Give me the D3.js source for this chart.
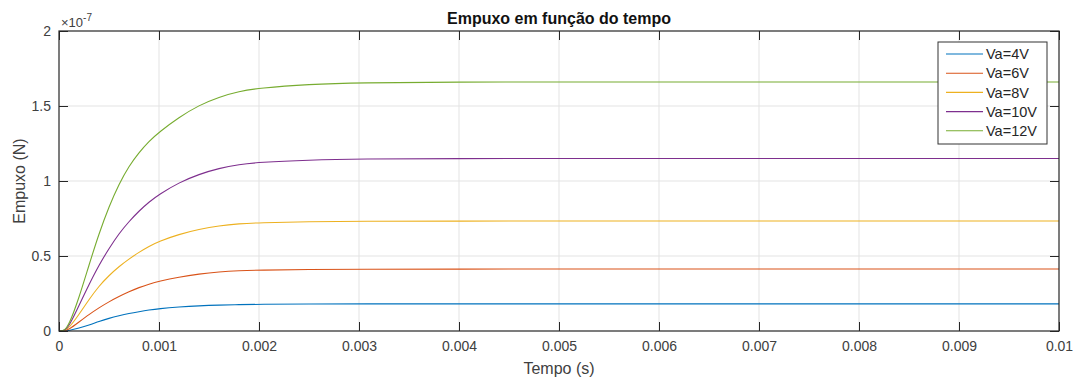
<!DOCTYPE html>
<html lang="en">
<head>
<meta charset="UTF-8">
<title>Empuxo em função do tempo</title>
<script src="https://cdn.jsdelivr.net/npm/d3@7/dist/d3.min.js"></script>
<style>
  body { margin: 0; background: #fff; }
  svg { display: block; font-family: "Liberation Sans", Arial, sans-serif; }
</style>
</head>
<body>
<svg width="1078" height="381"></svg>
<script>
// tempo (s)
var tempo = [0, 0.00005, 0.0001, 0.0002, 0.0003, 0.0004, 0.0005, 0.0006, 0.0007, 0.0008, 0.0009, 0.001,
  0.0012, 0.0014, 0.0016, 0.0018, 0.002, 0.0025, 0.003, 0.004, 0.005, 0.006, 0.007, 0.008, 0.009, 0.01];

// empuxo, em unidades de 1e-7 N
var va4  = [0, 0, 0.003, 0.02, 0.04, 0.064, 0.085, 0.102, 0.117, 0.129, 0.14, 0.149,
  0.16, 0.168, 0.173, 0.176, 0.178, 0.18, 0.181, 0.181, 0.181, 0.181, 0.181, 0.181, 0.181, 0.181];
var va6  = [0, 0, 0.01, 0.06, 0.11, 0.155, 0.195, 0.23, 0.262, 0.29, 0.313, 0.332,
  0.36, 0.38, 0.394, 0.402, 0.406, 0.41, 0.412, 0.413, 0.413, 0.413, 0.413, 0.413, 0.413, 0.413];
var va8  = [0, 0, 0.02, 0.11, 0.21, 0.3, 0.37, 0.43, 0.48, 0.525, 0.565, 0.598,
  0.645, 0.678, 0.702, 0.715, 0.722, 0.729, 0.732, 0.733, 0.733, 0.733, 0.733, 0.733, 0.733, 0.733];
var va10 = [0, 0, 0.03, 0.17, 0.31, 0.44, 0.55, 0.65, 0.73, 0.8, 0.86, 0.91,
  0.99, 1.045, 1.085, 1.11, 1.125, 1.14, 1.147, 1.15, 1.15, 1.15, 1.15, 1.15, 1.15, 1.15];
var va12 = [0, 0, 0.04, 0.22, 0.44, 0.65, 0.83, 0.98, 1.1, 1.19, 1.265, 1.325,
  1.425, 1.505, 1.56, 1.597, 1.62, 1.645, 1.655, 1.66, 1.66, 1.66, 1.66, 1.66, 1.66, 1.66];

var nomes = ["Va=4V", "Va=6V", "Va=8V", "Va=10V", "Va=12V"];
var cores = ["#0072BD", "#D95319", "#EDB120", "#7E2F8E", "#77AC30"];
var series = [va4, va6, va8, va10, va12];

var xTicks = [0, 0.001, 0.002, 0.003, 0.004, 0.005, 0.006, 0.007, 0.008, 0.009, 0.01];
var yTicks = [0, 0.5, 1, 1.5, 2];

var svg = d3.select("svg");
var esq = 59, dir = 1059, topo = 31, base = 331;

var x = d3.scaleLinear().domain([0, 0.01]).range([esq, dir]);
var y = d3.scaleLinear().domain([0, 2]).range([base, topo]);

// grade
svg.append("g").selectAll("line").data(xTicks.slice(1, -1)).enter().append("line")
  .attr("x1", function(d) { return x(d); }).attr("x2", function(d) { return x(d); })
  .attr("y1", topo).attr("y2", base)
  .attr("stroke", "#e3e3e3").attr("stroke-width", 1);
svg.append("g").selectAll("line").data(yTicks.slice(1, -1)).enter().append("line")
  .attr("y1", function(d) { return y(d); }).attr("y2", function(d) { return y(d); })
  .attr("x1", esq).attr("x2", dir)
  .attr("stroke", "#e3e3e3").attr("stroke-width", 1);

// curvas
var line = d3.line()
  .x(function(d, i) { return x(tempo[i]); })
  .y(function(d) { return y(d); })
  .curve(d3.curveBasis);

svg.append("g").selectAll("path").data(series).enter().append("path")
  .attr("d", line)
  .attr("fill", "none")
  .attr("stroke", function(d, i) { return cores[i]; })
  .attr("stroke-width", 1.1);

// eixos (caixa com ticks para dentro)
function estilo(g) {
  g.select(".domain").remove();
  g.selectAll(".tick line").attr("stroke", "#262626");
  g.selectAll(".tick text").attr("fill", "#404040").style("font-size", "14px");
}
svg.append("g").attr("transform", "translate(0," + base + ")")
  .call(d3.axisBottom(x).tickValues(xTicks).tickSize(-9).tickPadding(10)
    .tickFormat(function(d) { return d === 0 ? "0" : String(+d.toFixed(3)); }))
  .call(estilo);
svg.append("g").attr("transform", "translate(0," + topo + ")")
  .call(d3.axisTop(x).tickValues(xTicks).tickSize(-9).tickFormat(""))
  .call(estilo);
svg.append("g").attr("transform", "translate(" + esq + ",0)")
  .call(d3.axisLeft(y).tickValues(yTicks).tickSize(-9).tickPadding(8)
    .tickFormat(function(d) { return String(d); }))
  .call(estilo);
svg.append("g").attr("transform", "translate(" + dir + ",0)")
  .call(d3.axisRight(y).tickValues(yTicks).tickSize(-9).tickFormat(""))
  .call(estilo);

svg.append("rect").attr("x", esq).attr("y", topo)
  .attr("width", dir - esq).attr("height", base - topo)
  .attr("fill", "none").attr("stroke", "#262626").attr("stroke-width", 1.2);

// expoente
var ex = svg.append("text").attr("x", esq + 2).attr("y", 27)
  .attr("fill", "#404040").style("font-size", "13px");
ex.append("tspan").text("\u00d710");
ex.append("tspan").attr("dy", -6).style("font-size", "10px").text("-7");

// titulos
svg.append("text").attr("x", (esq + dir) / 2).attr("y", 24)
  .attr("text-anchor", "middle").attr("fill", "#111")
  .style("font-size", "16px").style("font-weight", "bold")
  .text("Empuxo em função do tempo");
svg.append("text").attr("x", (esq + dir) / 2).attr("y", 374)
  .attr("text-anchor", "middle").attr("fill", "#404040").style("font-size", "16px")
  .text("Tempo (s)");
svg.append("text").attr("transform", "translate(25," + (topo + base) / 2 + ") rotate(-90)")
  .attr("text-anchor", "middle").attr("fill", "#404040").style("font-size", "16px")
  .text("Empuxo (N)");

// legenda
var lg = svg.append("g").attr("transform", "translate(938,42)");
lg.append("rect").attr("width", 109).attr("height", 102)
  .attr("fill", "#fff").attr("stroke", "#333").attr("stroke-width", 1);
var item = lg.selectAll("g").data(nomes).enter().append("g")
  .attr("transform", function(d, i) { return "translate(0," + (12 + i * 19.2) + ")"; });
item.append("line").attr("x1", 8).attr("x2", 45)
  .attr("stroke", function(d, i) { return cores[i]; }).attr("stroke-width", 1.1);
item.append("text").attr("x", 48).attr("dy", "0.36em")
  .attr("fill", "#262626").style("font-size", "14.5px").text(function(d) { return d; });
</script>
</body>
</html>
